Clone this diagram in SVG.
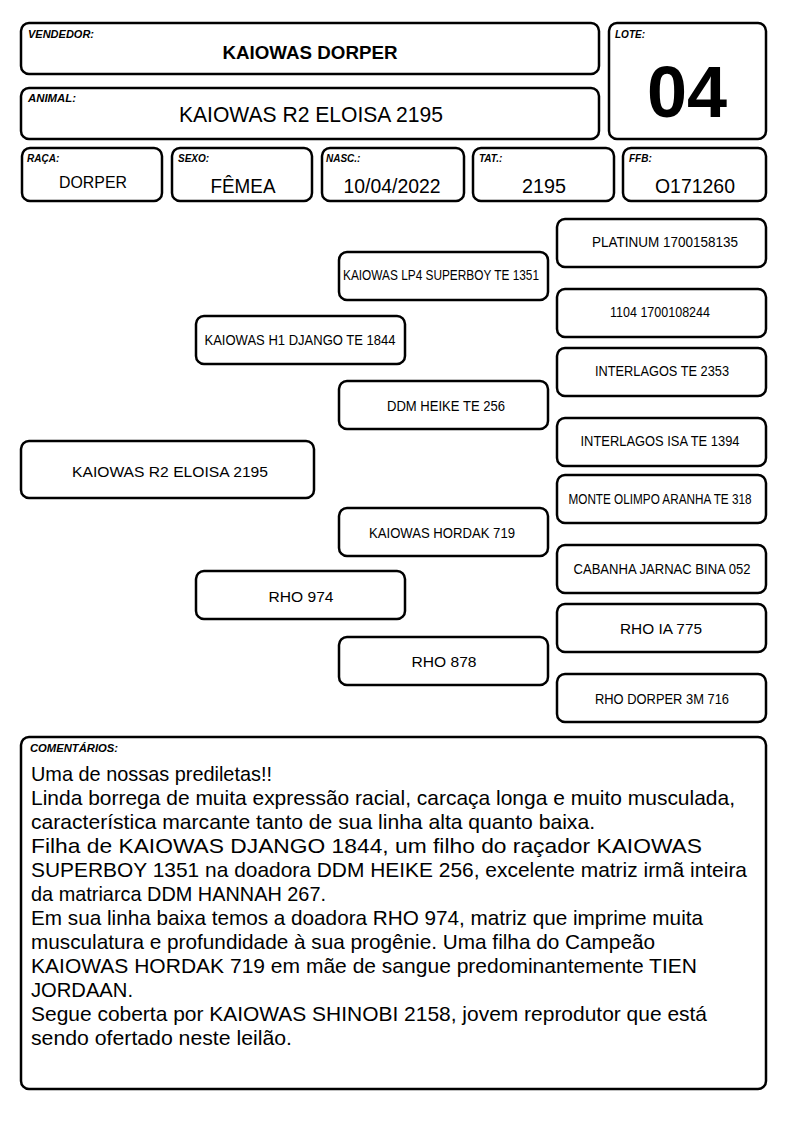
<svg xmlns="http://www.w3.org/2000/svg" width="794" height="1123" viewBox="0 0 794 1123">
<style>
.box{fill:#fff;stroke:#000;stroke-width:2.5}
.lbl{font-family:"Liberation Sans",Arial,sans-serif;font-size:10px;font-weight:bold;font-style:italic;fill:#000}
.val{font-family:"Liberation Sans",Arial,sans-serif;fill:#000;text-anchor:middle}
.ped{font-family:"Liberation Sans",Arial,sans-serif;fill:#000;text-anchor:middle;font-size:14.5px}
.cm{font-family:"Liberation Sans",Arial,sans-serif;font-size:21px;fill:#000}
</style>
<rect width="794" height="1123" fill="#fff"/>
<g id="vendedor">
<rect class="box" x="21" y="23" width="578" height="51" rx="8"/>
<text class="lbl" x="28" y="38" textLength="66" lengthAdjust="spacingAndGlyphs">VENDEDOR:</text>
<text class="val" x="310" y="59" font-size="19" font-weight="bold" textLength="175" lengthAdjust="spacingAndGlyphs">KAIOWAS DORPER</text>
</g>
<g id="animal">
<rect class="box" x="21" y="88" width="578" height="51" rx="8"/>
<text class="lbl" x="28" y="102" textLength="48" lengthAdjust="spacingAndGlyphs">ANIMAL:</text>
<text class="val" x="311" y="122" font-size="22" textLength="264" lengthAdjust="spacingAndGlyphs">KAIOWAS R2 ELOISA 2195</text>
</g>
<g id="lote">
<rect class="box" x="609" y="23" width="157" height="116" rx="8"/>
<text class="lbl" x="615" y="38">LOTE:</text>
<text class="val" x="687" y="117" font-size="72" font-weight="bold">04</text>
</g>
<g id="raca">
<rect class="box" x="22" y="148" width="140" height="53" rx="8"/>
<text class="lbl" x="27" y="162">RAÇA:</text>
<text class="val" x="93" y="188" font-size="17" textLength="68" lengthAdjust="spacingAndGlyphs">DORPER</text>
</g>
<g id="sexo">
<rect class="box" x="172" y="148" width="140" height="53" rx="8"/>
<text class="lbl" x="178" y="162">SEXO:</text>
<text class="val" x="243" y="193" font-size="20" textLength="65" lengthAdjust="spacingAndGlyphs">FÊMEA</text>
</g>
<g id="nasc">
<rect class="box" x="322" y="148" width="142" height="53" rx="8"/>
<text class="lbl" x="326" y="162">NASC.:</text>
<text class="val" x="392" y="193" font-size="20" textLength="97" lengthAdjust="spacingAndGlyphs">10/04/2022</text>
</g>
<g id="tat">
<rect class="box" x="473" y="148" width="141" height="53" rx="8"/>
<text class="lbl" x="479" y="162">TAT.:</text>
<text class="val" x="544" y="193" font-size="20" textLength="44" lengthAdjust="spacingAndGlyphs">2195</text>
</g>
<g id="ffb">
<rect class="box" x="623" y="148" width="143" height="53" rx="8"/>
<text class="lbl" x="629" y="162">FFB:</text>
<text class="val" x="695" y="193" font-size="20" textLength="80" lengthAdjust="spacingAndGlyphs">O171260</text>
</g>
<g id="connectors"></g>
<g id="p-platinum">
<rect class="box" x="557" y="219" width="209" height="48" rx="8"/>
<text class="ped" x="665" y="247" font-size="15" textLength="146" lengthAdjust="spacingAndGlyphs">PLATINUM 1700158135</text>
</g>
<g id="p-superboy">
<rect class="box" x="339" y="252" width="209" height="48" rx="8"/>
<text class="ped" x="441" y="280" font-size="14" textLength="196" lengthAdjust="spacingAndGlyphs">KAIOWAS LP4 SUPERBOY TE 1351</text>
</g>
<g id="p-1104">
<rect class="box" x="557" y="289" width="209" height="48" rx="8"/>
<text class="ped" x="660" y="317" font-size="13" textLength="100" lengthAdjust="spacingAndGlyphs">1104 1700108244</text>
</g>
<g id="p-django">
<rect class="box" x="196" y="316" width="209" height="48" rx="8"/>
<text class="ped" x="300" y="345" font-size="15" textLength="191" lengthAdjust="spacingAndGlyphs">KAIOWAS H1 DJANGO TE 1844</text>
</g>
<g id="p-interlagos">
<rect class="box" x="557" y="348" width="209" height="48" rx="8"/>
<text class="ped" x="662" y="376" textLength="134" lengthAdjust="spacingAndGlyphs">INTERLAGOS TE 2353</text>
</g>
<g id="p-heike">
<rect class="box" x="339" y="381" width="209" height="48" rx="8"/>
<text class="ped" x="446" y="411" textLength="118" lengthAdjust="spacingAndGlyphs">DDM HEIKE TE 256</text>
</g>
<g id="p-isa">
<rect class="box" x="557" y="418" width="209" height="48" rx="8"/>
<text class="ped" x="660" y="446" textLength="159" lengthAdjust="spacingAndGlyphs">INTERLAGOS ISA TE 1394</text>
</g>
<g id="p-eloisa">
<rect class="box" x="21" y="441" width="293" height="57" rx="8"/>
<text class="ped" x="170" y="477" font-size="18" textLength="196" lengthAdjust="spacingAndGlyphs">KAIOWAS R2 ELOISA 2195</text>
</g>
<g id="p-aranha">
<rect class="box" x="557" y="475" width="209" height="48" rx="8"/>
<text class="ped" x="660" y="504" font-size="14" textLength="183" lengthAdjust="spacingAndGlyphs">MONTE OLIMPO ARANHA TE 318</text>
</g>
<g id="p-hordak">
<rect class="box" x="339" y="508" width="209" height="48" rx="8"/>
<text class="ped" x="442" y="538" textLength="146" lengthAdjust="spacingAndGlyphs">KAIOWAS HORDAK 719</text>
</g>
<g id="p-bina">
<rect class="box" x="557" y="545" width="209" height="48" rx="8"/>
<text class="ped" x="662" y="574" font-size="15" textLength="177" lengthAdjust="spacingAndGlyphs">CABANHA JARNAC BINA 052</text>
</g>
<g id="p-rho974">
<rect class="box" x="196" y="571" width="209" height="48" rx="8"/>
<text class="ped" x="301" y="602" font-size="18" textLength="65" lengthAdjust="spacingAndGlyphs">RHO 974</text>
</g>
<g id="p-rhoia">
<rect class="box" x="557" y="604" width="209" height="48" rx="8"/>
<text class="ped" x="661" y="634" font-size="18" textLength="82" lengthAdjust="spacingAndGlyphs">RHO IA 775</text>
</g>
<g id="p-rho878">
<rect class="box" x="339" y="637" width="209" height="48" rx="8"/>
<text class="ped" x="444" y="667" font-size="18" textLength="65" lengthAdjust="spacingAndGlyphs">RHO 878</text>
</g>
<g id="p-rho716">
<rect class="box" x="557" y="674" width="209" height="48" rx="8"/>
<text class="ped" x="662" y="704" textLength="134" lengthAdjust="spacingAndGlyphs">RHO DORPER 3M 716</text>
</g>
<g id="comentarios">
<rect class="box" x="21" y="737" width="745" height="352" rx="8"/>
<text class="lbl" x="30" y="752" textLength="88" lengthAdjust="spacingAndGlyphs">COMENTÁRIOS:</text>
<text class="cm" x="31" y="781" textLength="241" lengthAdjust="spacingAndGlyphs">Uma de nossas prediletas!!</text>
<text class="cm" x="31" y="805" textLength="704" lengthAdjust="spacingAndGlyphs">Linda borrega de muita expressão racial, carcaça longa e muito musculada,</text>
<text class="cm" x="31" y="829" textLength="564" lengthAdjust="spacingAndGlyphs">característica marcante tanto de sua linha alta quanto baixa.</text>
<text class="cm" x="31" y="853" textLength="671" lengthAdjust="spacingAndGlyphs">Filha de KAIOWAS DJANGO 1844, um filho do raçador KAIOWAS</text>
<text class="cm" x="31" y="877" textLength="716" lengthAdjust="spacingAndGlyphs">SUPERBOY 1351 na doadora DDM HEIKE 256, excelente matriz irmã inteira</text>
<text class="cm" x="31" y="901" textLength="295" lengthAdjust="spacingAndGlyphs">da matriarca DDM HANNAH 267.</text>
<text class="cm" x="31" y="925" textLength="672" lengthAdjust="spacingAndGlyphs">Em sua linha baixa temos a doadora RHO 974, matriz que imprime muita</text>
<text class="cm" x="31" y="949" textLength="624" lengthAdjust="spacingAndGlyphs">musculatura e profundidade à sua progênie. Uma filha do Campeão</text>
<text class="cm" x="31" y="973" textLength="666" lengthAdjust="spacingAndGlyphs">KAIOWAS HORDAK 719 em mãe de sangue predominantemente TIEN</text>
<text class="cm" x="31" y="997" textLength="102" lengthAdjust="spacingAndGlyphs">JORDAAN.</text>
<text class="cm" x="31" y="1021" textLength="676" lengthAdjust="spacingAndGlyphs">Segue coberta por KAIOWAS SHINOBI 2158, jovem reprodutor que está</text>
<text class="cm" x="31" y="1045" textLength="261" lengthAdjust="spacingAndGlyphs">sendo ofertado neste leilão.</text>
</g>
</svg>
